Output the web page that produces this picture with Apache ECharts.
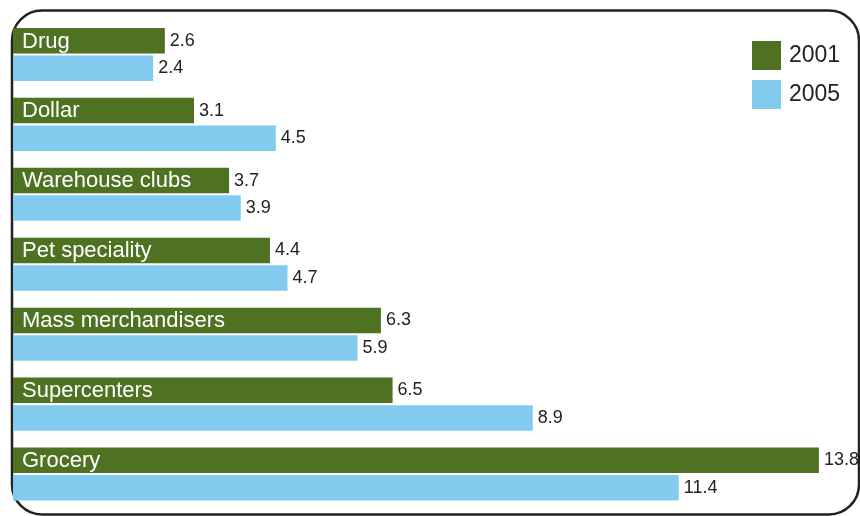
<!DOCTYPE html>
<html>
<head>
<meta charset="utf-8">
<script src="https://cdn.jsdelivr.net/npm/echarts@6/dist/echarts.min.js"></script>
<style>
  html, body { margin: 0; padding: 0; background: #ffffff; }
  #chart { width: 860px; height: 516px; }
</style>
</head>
<body>
<div id="chart"></div>
<script>
// Store formats, top to bottom
const categories = ['Drug', 'Dollar', 'Warehouse clubs', 'Pet speciality', 'Mass merchandisers', 'Supercenters', 'Grocery'];
const seriesNames = ['2001', '2005'];
const values2001 = [2.6, 3.1, 3.7, 4.4, 6.3, 6.5, 13.8];
const values2005 = [2.4, 4.5, 3.9, 4.7, 5.9, 8.9, 11.4];

const GREEN = '#4E7222';
const BLUE = '#82CBEE';
const FONT = '"Liberation Sans", Arial, sans-serif';

const chart = echarts.init(document.getElementById('chart'), null, { renderer: 'canvas' });

const valueLabel = {
  show: true,
  position: 'right',
  distance: 5,
  fontFamily: FONT,
  fontSize: 18,
  color: '#222222'
};

chart.setOption({
  backgroundColor: '#ffffff',
  animation: false,
  graphic: [{
    type: 'rect',
    z: -1,
    shape: { x: 12, y: 10.5, width: 847, height: 504, r: 30 },
    style: { fill: 'none', stroke: '#222222', lineWidth: 2.5 }
  }],
  legend: {
    data: seriesNames,
    orient: 'vertical',
    left: 747,
    top: 36,
    itemWidth: 29,
    itemHeight: 29,
    itemGap: 10,
    icon: 'rect',
    textStyle: { fontFamily: FONT, fontSize: 23, color: '#222222', padding: [0, 0, 0, 3] }
  },
  grid: { left: 13, right: 29.4, top: 19.5, bottom: 7, containLabel: false },
  xAxis: {
    type: 'value',
    min: 0,
    max: 14,
    show: false
  },
  yAxis: {
    type: 'category',
    data: categories,
    inverse: true,
    z: 10,
    axisLine: { show: false },
    axisTick: { show: false },
    splitLine: { show: false },
    axisLabel: {
      inside: true,
      margin: 9,
      color: '#ffffff',
      fontFamily: FONT,
      fontSize: 22,
      verticalAlign: 'bottom',
      lineHeight: 26
    }
  },
  series: [
    {
      name: seriesNames[0],
      type: 'bar',
      data: values2001,
      barWidth: 25.5,
      barGap: '8%',
      itemStyle: { color: GREEN },
      label: valueLabel
    },
    {
      name: seriesNames[1],
      type: 'bar',
      data: values2005,
      barWidth: 25.5,
      barGap: '8%',
      itemStyle: { color: BLUE },
      label: valueLabel
    }
  ]
});
</script>
</body>
</html>
